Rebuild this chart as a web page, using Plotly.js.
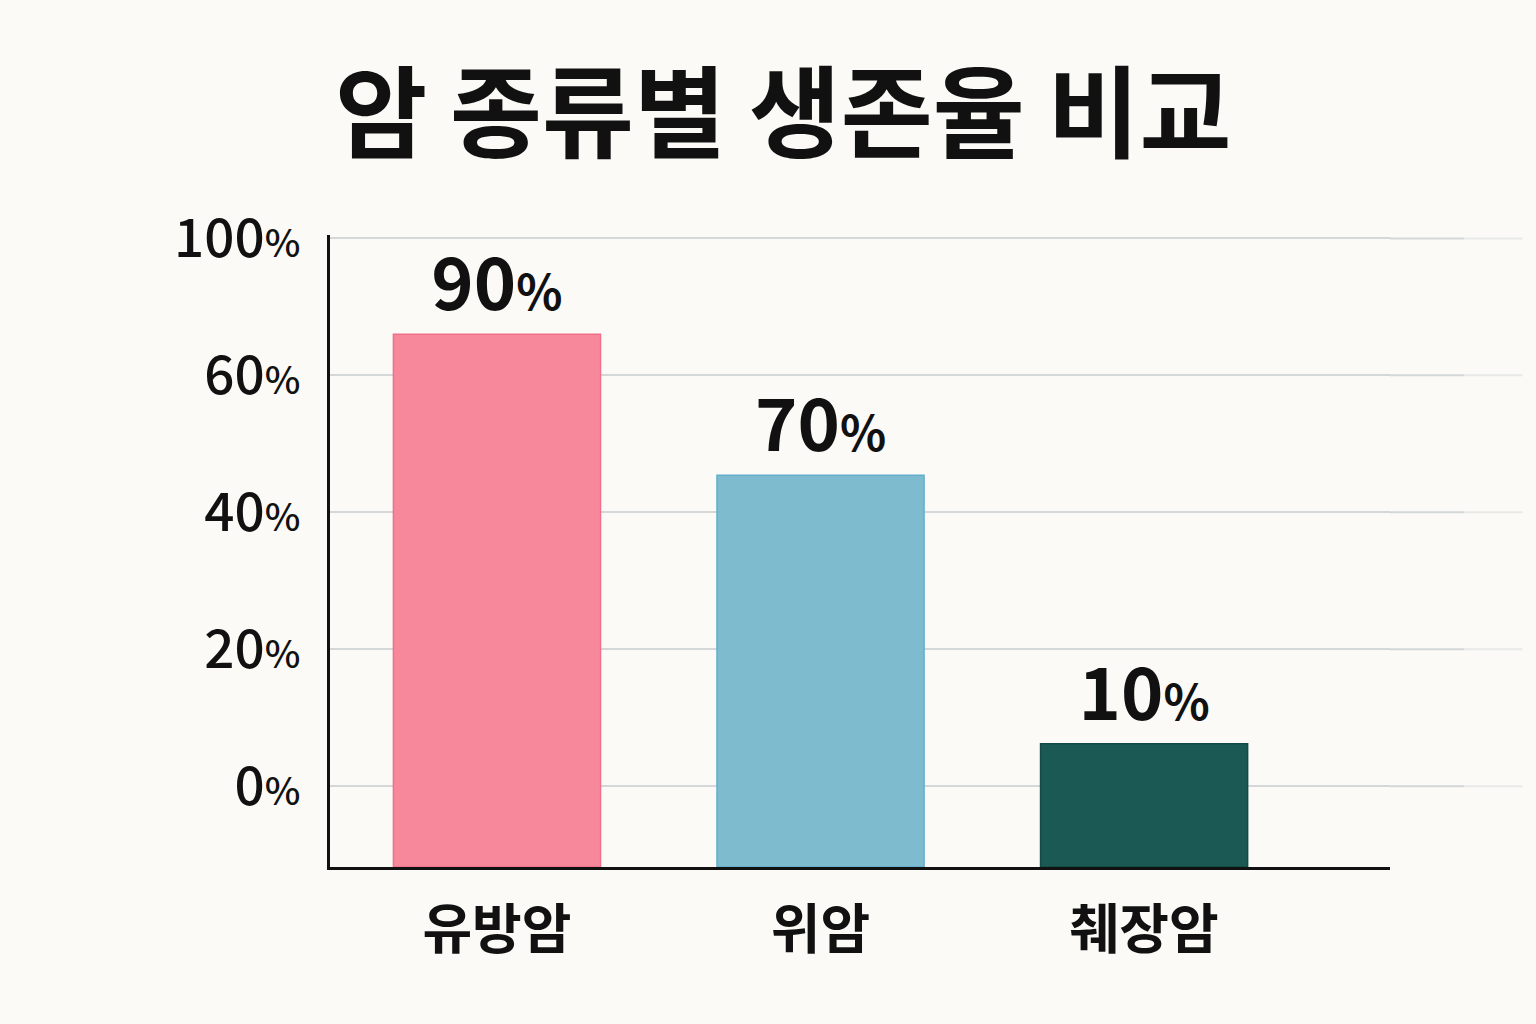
<!DOCTYPE html>
<html>
<head>
<meta charset="utf-8">
<script src="https://cdn.plot.ly/plotly-3.0.1.min.js"></script>
<style>
  html, body { margin: 0; padding: 0; background: #fbfaf6; }
  #chart { width: 1536px; height: 1024px; }
</style>
</head>
<body>
<div id="chart"></div>
<script>
// 암 종류별 생존율 — values as printed on the reference picture

const categories = ['유방암', '위암', '췌장암'];
const survival   = [90, 70, 10];              // labels printed above the bars (%)
const barTops    = [3.30, 2.27, 0.31];        // bar tops as drawn, in grid steps above the "0%" line
const axisFloor  = -0.59;                     // where the bars start (x axis line), in grid steps
const tickPos    = [0, 1, 2, 3, 4];
const tickLabels = ['0', '20', '40', '60', '100'];
const barColors  = ['#f7889b', '#7ebbce', '#1b5a54'];
const barEdges   = ['#f07089', '#62afcd', '#144a44'];

const FONT = '"Noto Sans CJK KR", "Noto Sans", sans-serif';
const GRID = '#d3d7d8';

const pct = (n, size) => `${n}<span style="font-size:${size}px">%</span>`;

const trace = {
  type: 'bar',
  x: categories,
  y: barTops.map(v => v - axisFloor),
  base: axisFloor,
  width: 0.64,
  marker: { color: barColors, line: { color: barEdges, width: 1.5 } },
  text: survival.map(v => `<b>${pct(v, 48)}</b>`),
  textposition: 'outside',
  textfont: { family: FONT, size: 72, color: '#111111' },
  cliponaxis: false,
  hoverinfo: 'skip',
};

// light gridlines run on past the end of the x axis and fade out
const gridTails = [];
tickPos.forEach(t => {
  gridTails.push({ type: 'line', xref: 'paper', yref: 'y', x0: 1, x1: 1.07, y0: t, y1: t,
                   line: { color: GRID, width: 2 }, opacity: 1, layer: 'below' });
  gridTails.push({ type: 'line', xref: 'paper', yref: 'y', x0: 1.07, x1: 1.125, y0: t, y1: t,
                   line: { color: GRID, width: 2 }, opacity: 0.45, layer: 'below' });
});

const layout = {
  width: 1536,
  height: 1024,
  margin: { l: 330, r: 146, t: 235, b: 157 },
  paper_bgcolor: '#fbfaf6',
  plot_bgcolor: 'rgba(0,0,0,0)',
  showlegend: false,
  title: {
    text: '<b>암 종류별 생존율 비교</b>',
    font: { family: FONT, size: 100, color: '#111111', weight: 900 },
    x: 0.510, xanchor: 'center',
    y: 0.888, yanchor: 'middle', yref: 'container',
  },
  xaxis: {
    type: 'category',
    range: [-0.516, 2.76],
    showgrid: false,
    zeroline: false,
    showline: true, linecolor: '#111111', linewidth: 3,
    ticks: '',
    ticklabelstandoff: 14,
    tickfont: { family: FONT, size: 54, color: '#111111', weight: 'bold' },
  },
  yaxis: {
    range: [axisFloor, 4.025],
    tickvals: tickPos,
    ticktext: tickLabels.map(t => pct(t, 38)),
    showgrid: true, gridcolor: GRID, gridwidth: 2,
    zeroline: true, zerolinecolor: GRID, zerolinewidth: 2,
    showline: true, linecolor: '#111111', linewidth: 3,
    ticks: '',
    ticklabelstandoff: 16,
    tickfont: { family: FONT, size: 53, color: '#111111', weight: 500 },
  },
  shapes: gridTails,
};

Plotly.newPlot('chart', [trace], layout, { displayModeBar: false, responsive: false });
</script>
</body>
</html>
